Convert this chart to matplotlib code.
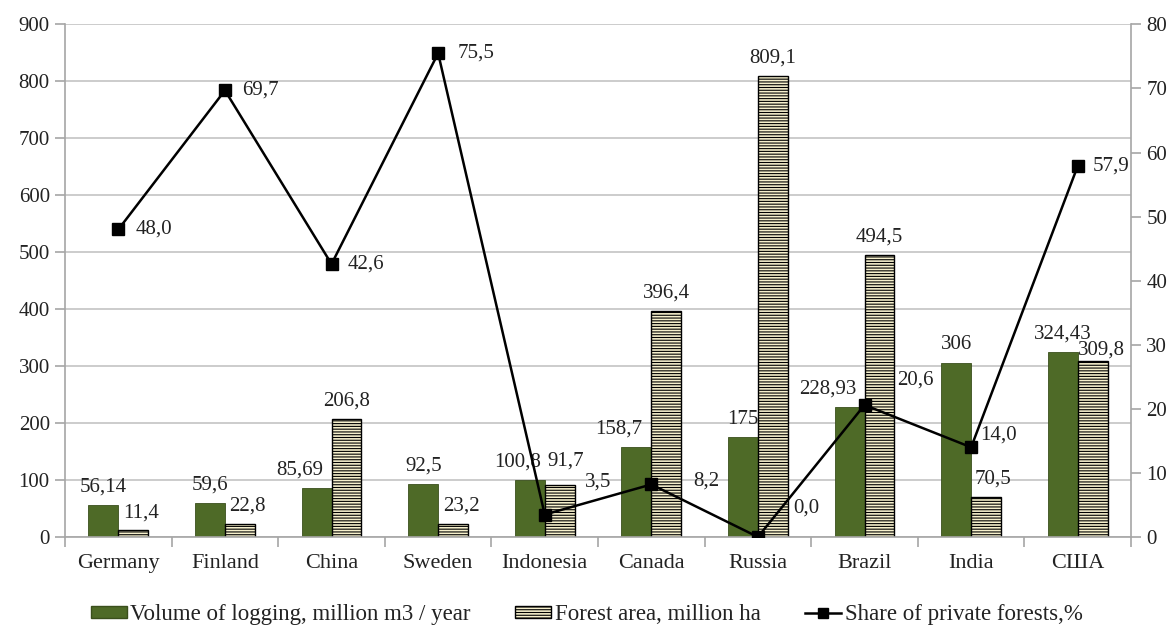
import numpy as np
import matplotlib.pyplot as plt
from matplotlib.lines import Line2D
from matplotlib.patches import Patch

plt.rcParams['font.family'] = ['Liberation Serif', 'DejaVu Serif']
plt.rcParams['hatch.linewidth'] = 0.8

countries = ['Germany', 'Finland', 'China', 'Sweden', 'Indonesia',
             'Canada', 'Russia', 'Brazil', 'India', 'США']
logging = [56.14, 59.6, 85.69, 92.5, 100.8, 158.7, 175, 228.93, 306, 324.43]
forest = [11.4, 22.8, 206.8, 23.2, 91.7, 396.4, 809.1, 494.5, 70.5, 309.8]
share = [48.0, 69.7, 42.6, 75.5, 3.5, 8.2, 0.0, 20.6, 14.0, 57.9]

def fmt(v):
    return str(v).replace('.', ',')

green = '#4e6a27'
beige = '#f6f0cc'
grey = '#a6a6a6'
txt = '#222222'
fs = 15

fig = plt.figure(figsize=(11.74, 6.26), dpi=100)
ax = fig.add_axes([0.0554, 0.1422, 0.908, 0.8188])
x = np.arange(len(countries))
w = 0.28

ax.bar(x - w / 2, logging, w, color=green, edgecolor='#3a4f1c', linewidth=0.6, zorder=2)
ax.bar(x + w / 2, forest, w, color=beige, edgecolor='black', hatch='------',
       linewidth=1.0, zorder=2)

ax.set_xlim(-0.5, len(countries) - 0.5)
ax.set_ylim(0, 900)
ax.set_yticks(range(0, 901, 100))
ax.yaxis.grid(True, color='#c4c4c4', linewidth=1.2, zorder=0)
ax.set_axisbelow(True)
ax.set_xticks(x)
ax.set_xticklabels(countries)
ax.set_xticks(np.arange(-0.5, len(countries), 1), minor=True)
ax.tick_params(axis='x', which='major', length=0, pad=12, labelsize=16, colors=txt)
ax.tick_params(axis='x', which='minor', length=7, color=grey, width=1.2)
ax.tick_params(axis='y', length=7, color=grey, width=1.2, labelsize=fs, labelcolor=txt, pad=4)
for s in ['top', 'right']:
    ax.spines[s].set_visible(False)
for s in ['left', 'bottom']:
    ax.spines[s].set_color(grey)
    ax.spines[s].set_linewidth(1.2)

# bar labels (offsets in pixels, converted to points)
log_dx = [0, 0, -17, 0, -12, -18, 0, -22, 0, 0]
for i, v in enumerate(logging):
    ax.annotate(fmt(v), (x[i] - w / 2, v), xytext=(log_dx[i] * 0.72, 6),
                textcoords='offset points', ha='center', va='bottom', fontsize=fs, color=txt)
for_dx = [8, 8, 0, 8, 6, 0, 0, 0, 7, 9]
for_dy = [6, 6, 6, 6, 10, 6, 6, 6, 6, 1]
for i, v in enumerate(forest):
    ax.annotate(fmt(v), (x[i] + w / 2, v), xytext=(for_dx[i] * 0.72, for_dy[i]),
                textcoords='offset points', ha='center', va='bottom', fontsize=fs, color=txt)

ax2 = ax.twinx()
ax2.set_ylim(0, 80)
ax2.set_yticks(range(0, 81, 10))
ax2.plot(x, share, color='black', linewidth=1.8, marker='s', markersize=9, zorder=5)
ax2.tick_params(axis='y', length=7, color=grey, width=1.2, labelsize=fs, labelcolor=txt, pad=4)
for s in ['top', 'left', 'bottom']:
    ax2.spines[s].set_visible(False)
ax2.spines['right'].set_color(grey)
ax2.spines['right'].set_linewidth(1.2)

# line labels: left edge offset from marker, in pixels (right, up)
line_off = [(17, 0), (17, 0), (16, 0), (19, 0), (40, 33),
            (42, 3), (35, 29), (33, 25), (9, 12), (15, 0)]
for i, v in enumerate(share):
    ax2.annotate(f'{v:.1f}'.replace('.', ','), (x[i], v),
                 xytext=(line_off[i][0] * 0.72, line_off[i][1] * 0.72),
                 textcoords='offset points', ha='left', va='center', fontsize=fs, color=txt)

handles = [Patch(facecolor=green, edgecolor='#3a4f1c'),
           Patch(facecolor=beige, edgecolor='black', hatch='------'),
           Line2D([0], [0], color='black', linewidth=1.8, marker='s', markersize=7)]
labels = ['Volume of logging, million m3 / year', 'Forest area, million ha',
          'Share of private forests,%']
fig.legend(handles, labels, loc='center', bbox_to_anchor=(0.4996, 0.018), ncol=3,
           frameon=False, fontsize=16.5, handlelength=1.57, handleheight=0.4,
           handletextpad=0.15, columnspacing=1.95, labelcolor=txt)

fig.savefig('out.png', dpi=100)
